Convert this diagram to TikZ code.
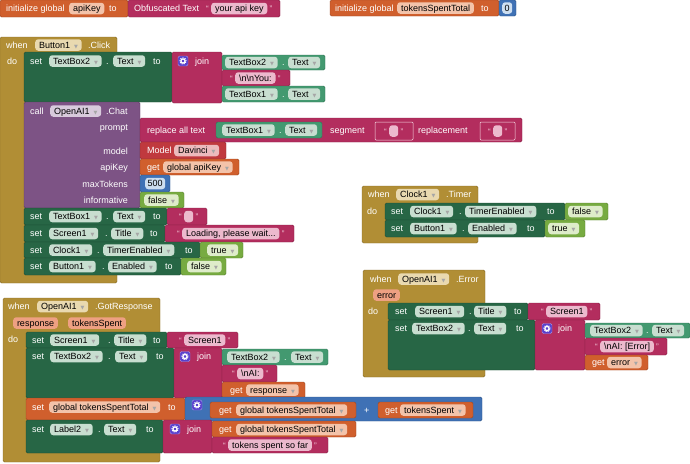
\documentclass[tikz,border=0pt]{standalone}
\usepackage{fontspec}
\setmainfont{Liberation Sans}
\newfontfamily\symf{DejaVu Sans}
\usetikzlibrary{positioning}

\definecolor{cevt}{RGB}{177,142,53}
\definecolor{cset}{RGB}{39,102,69}
\definecolor{cget}{RGB}{67,153,112}
\definecolor{ctxt}{RGB}{179,45,94}
\definecolor{cvar}{RGB}{208,95,45}
\definecolor{cmath}{RGB}{63,113,181}
\definecolor{clog}{RGB}{119,171,65}
\definecolor{ccall}{RGB}{125,83,133}
\definecolor{cmod}{RGB}{192,57,62}
\definecolor{cgear}{RGB}{88,64,205}
\definecolor{cquo}{RGB}{245,210,222}
\definecolor{pset}{RGB}{200,222,208}
\definecolor{pvar}{RGB}{243,195,170}
\definecolor{ptxt}{RGB}{236,185,205}
\definecolor{pevt}{RGB}{233,217,176}
\definecolor{pcall}{RGB}{216,202,220}
\definecolor{pmod}{RGB}{236,186,188}
\definecolor{pmath}{RGB}{205,222,240}
\definecolor{plog}{RGB}{222,236,202}
\definecolor{parg}{RGB}{238,160,130}

\newcommand{\fs}{\fontsize{9}{10}\selectfont}
\newcommand{\dd}{\hspace{4pt}{\symf\fontsize{5}{5}\selectfont\textcolor{black!35}{▼}}}

\tikzset{
  blk/.style={fill=#1,draw=#1!75!black,line width=0.4pt,rounded corners=1.5pt},
  lbl/.style={anchor=west,inner sep=0pt,text=white,font=\fs,text height=7.5pt,text depth=1.5pt},
  lblr/.style={lbl,anchor=east},
  pill/.style={anchor=west,fill=#1,rounded corners=3pt,inner xsep=3.8pt,inner ysep=0pt,minimum height=11.5pt,text=black,font=\fs,text height=7.5pt,text depth=1.5pt},
  quo/.style={inner sep=0pt,text=cquo,font=\fontsize{8}{8}\selectfont,text height=7.5pt,text depth=1.5pt},
  sock/.style={draw=cquo!80,line width=0.5pt,rounded corners=1pt},
  gearbox/.style={fill=cgear,draw=cgear!55!white,rounded corners=1.5pt,minimum size=10pt,inner sep=0pt}
}

\begin{document}
\begin{tikzpicture}[x=1pt,y=-1pt]
\useasboundingbox (0,0) rectangle (690,463);
%
% global variables
\path[blk=cvar] (0,0) rectangle (128,17);
\node[lbl] (ig1) at (6,8.5) {initialize global};
\node[pill=pvar] (ig1n) at (69,8.5) {apiKey};
\node[lbl] (ig1to) at (109,8.5) {to};
\path[blk=ctxt] (128,0) rectangle (280,17);
\node[lbl] (obf) at (134,8.5) {Obfuscated Text};
\node[pill=ptxt] (obfk) at (211,8.5) {your api key};
\node[quo,left=2pt of obfk] (obfq1) {“};
\node[quo,right=2pt of obfk] (obfq2) {”};
%
\path[blk=cvar] (330,0) rectangle (499,16);
\node[lbl] (ig2) at (335,8) {initialize global};
\node[pill=pvar] (ig2n) at (397,8) {tokensSpentTotal};
\node[lbl] (ig2to) at (481,8) {to};
\path[blk=cmath] (499,0) rectangle (516,16);
\node[pill=pmath,inner xsep=2.5pt] (zero) at (502,8) {0};
%
% when Button1.Click
\path[blk=cevt] (0,37) rectangle (117,283);
\node[lbl] (w1) at (6,45) {when};
\node[pill=pevt] (w1c) at (35,45) {Button1\dd};
\node[lbl] (w1e) at (88,45) {.Click};
\node[lbl] (w1do) at (7,61) {do};
%
\path[blk=cset] (24,52) rectangle (172,102);
\node[lbl] (a1) at (30,61) {set};
\node[pill=pset] (a1c) at (49,61) {TextBox2\dd};
\node[lbl] (a1d) at (106,61) {.};
\node[pill=pset] (a1p) at (113,61) {Text\dd};
\node[lbl] (a1to) at (153,61) {to};
\path[blk=ctxt] (172,52) rectangle (222,103);
\node[gearbox] (a1g) at (183,61) {};
\draw[white,line width=1.3pt] (a1g) circle (2.1pt);
\draw[white,line width=0.9pt,dash pattern=on 1.1pt off 1.1pt] (a1g) circle (3.2pt);
\node[lbl] (a1j) at (195,61) {join};
\path[blk=cget] (222,55) rectangle (325,70);
\node[pill=pset] (a1x) at (225,62.5) {TextBox2\dd};
\node[lbl] (a1xd) at (282,62.5) {.};
\node[pill=pset] (a1xp) at (288,62.5) {Text\dd};
\path[blk=ctxt] (222,70) rectangle (290,86);
\node[pill=ptxt] (a1t) at (235,78) {\textbackslash n\textbackslash nYou:};
\node[quo,left=2pt of a1t] (a1q1) {“};
\node[quo,right=2pt of a1t] (a1q2) {”};
\path[blk=cget] (222,86) rectangle (325,102);
\node[pill=pset] (a1y) at (225,94) {TextBox1\dd};
\node[lbl] (a1yd) at (282,94) {.};
\node[pill=pset] (a1yp) at (288,94) {Text\dd};
%
\path[blk=ccall] (24,102) rectangle (140,208);
\node[lbl] (c1) at (30,111) {call};
\node[pill=pcall] (c1c) at (50,111) {OpenAI1\dd};
\node[lbl] (c1e) at (106,111) {.Chat};
\node[lblr] (c1a) at (128,127) {prompt};
\node[lblr] (c1b) at (128,151) {model};
\node[lblr] (c1k) at (128,167) {apiKey};
\node[lblr] (c1m) at (128,184) {maxTokens};
\node[lblr] (c1i) at (128,200) {informative};
%
\path[blk=ctxt] (140,118) rectangle (522,142);
\node[lbl] (rp) at (147,130) {replace all text};
\path[blk=cget] (216,122) rectangle (322,138);
\node[pill=pset] (rpc) at (222,130) {TextBox1\dd};
\node[lbl] (rpd) at (279,130) {.};
\node[pill=pset] (rpp) at (285,130) {Text\dd};
\node[lbl] (rps) at (330,130) {segment};
\path[sock] (375,122) rectangle (413,140);
\node[pill=ptxt,minimum width=9pt,inner xsep=1pt] (rps1) at (389,131) {};
\node[quo,left=2pt of rps1] (rpq1) {“};
\node[quo,right=2pt of rps1] (rpq2) {”};
\node[lbl] (rpr) at (418,130) {replacement};
\path[sock] (480,122) rectangle (515,140);
\node[pill=ptxt,minimum width=9pt,inner xsep=1pt] (rpr1) at (493,131) {};
\node[quo,left=2pt of rpr1] (rpq3) {“};
\node[quo,right=2pt of rpr1] (rpq4) {”};
%
\path[blk=cmod] (140,142) rectangle (226,159);
\node[lbl] (md) at (147,150.5) {Model};
\node[pill=pmod] (mdv) at (174,150.5) {Davinci\dd};
\path[blk=cvar] (140,159) rectangle (239,175);
\node[lbl] (ak) at (147,167) {get};
\node[pill=pvar] (akv) at (163,167) {global apiKey\dd};
\path[blk=cmath] (140,175) rectangle (170,192);
\node[pill=pmath,inner xsep=2.5pt] (mx) at (145,183.5) {500};
\path[blk=clog] (140,192) rectangle (184,208);
\node[pill=plog] (inf) at (144,200) {false\dd};
%
\path[blk=cset] (24,208) rectangle (167,225);
\node[lbl] (a2) at (30,216.5) {set};
\node[pill=pset] (a2c) at (49,216.5) {TextBox1\dd};
\node[lbl] (a2d) at (106,216.5) {.};
\node[pill=pset] (a2p) at (113,216.5) {Text\dd};
\node[lbl] (a2to) at (153,216.5) {to};
\path[blk=ctxt] (167,208) rectangle (207,225);
\node[pill=ptxt,minimum width=9pt,inner xsep=1pt] (a2t) at (184,216.5) {};
\node[quo,left=2pt of a2t] (a2q1) {“};
\node[quo,right=2pt of a2t] (a2q2) {”};
%
\path[blk=cset] (24,225) rectangle (165,242);
\node[lbl] (a3) at (30,233.5) {set};
\node[pill=pset] (a3c) at (49,233.5) {Screen1\dd};
\node[lbl] (a3d) at (105,233.5) {.};
\node[pill=pset] (a3p) at (111,233.5) {Title\dd};
\node[lbl] (a3to) at (150,233.5) {to};
\path[blk=ctxt] (165,225) rectangle (294,242);
\node[pill=ptxt] (a3t) at (182,233.5) {Loading, please wait...};
\node[quo,left=2pt of a3t] (a3q1) {“};
\node[quo,right=2pt of a3t] (a3q2) {”};
%
\path[blk=cset] (24,242) rectangle (200,258);
\node[lbl] (a4) at (30,250) {set};
\node[pill=pset] (a4c) at (49,250) {Clock1\dd};
\node[lbl] (a4d) at (97,250) {.};
\node[pill=pset] (a4p) at (103,250) {TimerEnabled\dd};
\node[lbl] (a4to) at (185,250) {to};
\path[blk=clog] (200,242) rectangle (243,258);
\node[pill=plog] (a4v) at (207,250) {true\dd};
%
\path[blk=cset] (24,258) rectangle (181,275);
\node[lbl] (a5) at (30,266.5) {set};
\node[pill=pset] (a5c) at (49,266.5) {Button1\dd};
\node[lbl] (a5d) at (102,266.5) {.};
\node[pill=pset] (a5p) at (108,266.5) {Enabled\dd};
\node[lbl] (a5to) at (165,266.5) {to};
\path[blk=clog] (181,258) rectangle (226,275);
\node[pill=plog] (a5v) at (187,266.5) {false\dd};
%
% when Clock1.Timer
\path[blk=cevt] (362,186) rectangle (478,243);
\node[lbl] (w2) at (368,194.5) {when};
\node[pill=pevt] (w2c) at (396,194.5) {Clock1\dd};
\node[lbl] (w2e) at (446,194.5) {.Timer};
\node[lbl] (w2do) at (367,211) {do};
\path[blk=cset] (385,203) rectangle (565,220);
\node[lbl] (b1) at (391,211.5) {set};
\node[pill=pset] (b1c) at (410,211.5) {Clock1\dd};
\node[lbl] (b1d) at (459,211.5) {.};
\node[pill=pset] (b1p) at (465,211.5) {TimerEnabled\dd};
\node[lbl] (b1to) at (547,211.5) {to};
\path[blk=clog] (565,203) rectangle (608,220);
\node[pill=plog] (b1v) at (568,211.5) {false\dd};
\path[blk=cset] (385,220) rectangle (545,237);
\node[lbl] (b2) at (391,228.5) {set};
\node[pill=pset] (b2c) at (410,228.5) {Button1\dd};
\node[lbl] (b2d) at (462,228.5) {.};
\node[pill=pset] (b2p) at (468,228.5) {Enabled\dd};
\node[lbl] (b2to) at (527,228.5) {to};
\path[blk=clog] (545,220) rectangle (585,237);
\node[pill=plog] (b2v) at (548,228.5) {true\dd};
%
% when OpenAI1.Error
\path[blk=cevt] (363,270) rectangle (485,377);
\node[lbl] (w3) at (370,279) {when};
\node[pill=pevt] (w3c) at (398,279) {OpenAI1\dd};
\node[lbl] (w3e) at (456,279) {.Error};
\node[pill=parg] (w3a) at (373,295) {error};
\node[lbl] (w3do) at (368,311) {do};
\path[blk=cset] (388,303) rectangle (528,320);
\node[lbl] (e1) at (395,311.5) {set};
\node[pill=pset] (e1c) at (415,311.5) {Screen1\dd};
\node[lbl] (e1d) at (469,311.5) {.};
\node[pill=pset] (e1p) at (474,311.5) {Title\dd};
\node[lbl] (e1to) at (514,311.5) {to};
\path[blk=ctxt] (528,303) rectangle (600,320);
\node[pill=ptxt] (e1t) at (546,311.5) {Screen1};
\node[quo,left=2pt of e1t] (e1q1) {“};
\node[quo,right=2pt of e1t] (e1q2) {”};
\path[blk=cset] (388,320) rectangle (535,370);
\node[lbl] (e2) at (395,328.5) {set};
\node[pill=pset] (e2c) at (412,328.5) {TextBox2\dd};
\node[lbl] (e2d) at (468,328.5) {.};
\node[pill=pset] (e2p) at (474,328.5) {Text\dd};
\node[lbl] (e2to) at (516,328.5) {to};
\path[blk=ctxt] (535,320) rectangle (585,370);
\node[gearbox] (e2g) at (547,328.5) {};
\draw[white,line width=1.3pt] (e2g) circle (2.1pt);
\draw[white,line width=0.9pt,dash pattern=on 1.1pt off 1.1pt] (e2g) circle (3.2pt);
\node[lbl] (e2j) at (558,328.5) {join};
\path[blk=cget] (585,323) rectangle (690,338);
\node[pill=pset] (e2x) at (590,330.5) {TextBox2\dd};
\node[lbl] (e2xd) at (646,330.5) {.};
\node[pill=pset] (e2xp) at (652,330.5) {Text\dd};
\path[blk=ctxt] (585,338) rectangle (667,355);
\node[pill=ptxt] (e2t) at (600,346.5) {\textbackslash nAI: [Error]};
\node[quo,left=2pt of e2t] (e2q1) {“};
\node[quo,right=2pt of e2t] (e2q2) {”};
\path[blk=cvar] (585,355) rectangle (648,370);
\node[lbl] (e2g1) at (592,362.5) {get};
\node[pill=pvar] (e2gv) at (607,362.5) {error\dd};
%
% when OpenAI1.GotResponse
\path[blk=cevt] (3,298) rectangle (160,462);
\node[lbl] (w4) at (8,306.5) {when};
\node[pill=pevt] (w4c) at (37,306.5) {OpenAI1\dd};
\node[lbl] (w4e) at (95,306.5) {.GotResponse};
\node[pill=parg] (w4a) at (13,323) {response};
\node[pill=parg] (w4b) at (68,323) {tokensSpent};
\node[lbl] (w4do) at (8,339) {do};
\path[blk=cset] (26,332) rectangle (167,348);
\node[lbl] (r1) at (32,340) {set};
\node[pill=pset] (r1c) at (50,340) {Screen1\dd};
\node[lbl] (r1d) at (108,340) {.};
\node[pill=pset] (r1p) at (114,340) {Title\dd};
\node[lbl] (r1to) at (153,340) {to};
\path[blk=ctxt] (167,332) rectangle (238,348);
\node[pill=ptxt] (r1t) at (184,340) {Screen1};
\node[quo,left=2pt of r1t] (r1q1) {“};
\node[quo,right=2pt of r1t] (r1q2) {”};
\path[blk=cset] (26,348) rectangle (174,398);
\node[lbl] (r2) at (32,356.5) {set};
\node[pill=pset] (r2c) at (50,356.5) {TextBox2\dd};
\node[lbl] (r2d) at (108,356.5) {.};
\node[pill=pset] (r2p) at (115,356.5) {Text\dd};
\node[lbl] (r2to) at (156,356.5) {to};
\path[blk=ctxt] (174,348) rectangle (222,398);
\node[gearbox] (r2g) at (185,356.5) {};
\draw[white,line width=1.3pt] (r2g) circle (2.1pt);
\draw[white,line width=0.9pt,dash pattern=on 1.1pt off 1.1pt] (r2g) circle (3.2pt);
\node[lbl] (r2j) at (197,356.5) {join};
\path[blk=cget] (222,349) rectangle (328,365);
\node[pill=pset] (r2x) at (227,357) {TextBox2\dd};
\node[lbl] (r2xd) at (284,357) {.};
\node[pill=pset] (r2xp) at (291,357) {Text\dd};
\path[blk=ctxt] (222,365) rectangle (277,382);
\node[pill=ptxt] (r2t) at (237,373.5) {\textbackslash nAI:};
\node[quo,left=2pt of r2t] (r2q1) {“};
\node[quo,right=2pt of r2t] (r2q2) {”};
\path[blk=cvar] (222,382) rectangle (305,398);
\node[lbl] (r2g1) at (230,390) {get};
\node[pill=pvar] (r2gv) at (246,390) {response\dd};
%
\path[blk=cvar] (26,398) rectangle (185,420);
\node[lbl] (r3) at (32,407) {set};
\node[pill=pvar] (r3v) at (49,407) {global tokensSpentTotal\dd};
\node[lbl] (r3to) at (168,407) {to};
\path[blk=cmath] (185,397) rectangle (482,421);
\node[gearbox] (r3g) at (197,405) {};
\draw[white,line width=1.3pt] (r3g) circle (2.1pt);
\draw[white,line width=0.9pt,dash pattern=on 1.1pt off 1.1pt] (r3g) circle (3.2pt);
\path[blk=cvar] (210,402) rectangle (356,418);
\node[lbl] (r3a) at (219,410) {get};
\node[pill=pvar] (r3av) at (236,410) {global tokensSpentTotal\dd};
\node[lbl] (r3p) at (364,410) {+};
\path[blk=cvar] (378,402) rectangle (473,418);
\node[lbl] (r3b) at (385,410) {get};
\node[pill=pvar] (r3bv) at (400,410) {tokensSpent\dd};
%
\path[blk=cset] (26,420) rectangle (163,453);
\node[lbl] (r4) at (32,429.5) {set};
\node[pill=pset] (r4c) at (50,429.5) {Label2\dd};
\node[lbl] (r4d) at (98,429.5) {.};
\node[pill=pset] (r4p) at (104,429.5) {Text\dd};
\node[lbl] (r4to) at (146,429.5) {to};
\path[blk=ctxt] (163,420) rectangle (212,453);
\node[gearbox] (r4g) at (175,429) {};
\draw[white,line width=1.3pt] (r4g) circle (2.1pt);
\draw[white,line width=0.9pt,dash pattern=on 1.1pt off 1.1pt] (r4g) circle (3.2pt);
\node[lbl] (r4j) at (187,429.5) {join};
\path[blk=cvar] (212,421) rectangle (356,437);
\node[lbl] (r4a) at (219,429.5) {get};
\node[pill=pvar] (r4av) at (236,429.5) {global tokensSpentTotal\dd};
\path[blk=ctxt] (212,437) rectangle (328,453);
\node[pill=ptxt] (r4t) at (228,445) {tokens spent so far};
\node[quo,left=2pt of r4t] (r4q1) {“};
\node[quo,right=2pt of r4t] (r4q2) {”};
\end{tikzpicture}
\end{document}
